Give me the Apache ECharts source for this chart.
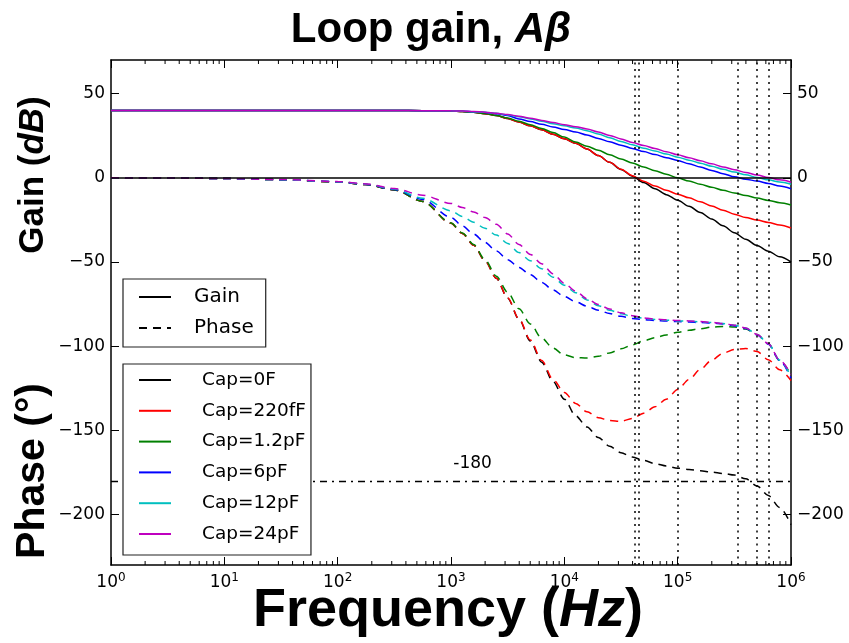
<!DOCTYPE html>
<html><head><meta charset="utf-8">
<script src="https://cdn.jsdelivr.net/npm/echarts@6/dist/echarts.min.js"></script>
<style>html,body{margin:0;padding:0;background:#fff}#c{width:849px;height:643px}</style>
</head><body><div id="c"></div>
<script>
// frequency grid (Hz)
const freq = [1, 3.162, 10, 31.62, 100, 177.8, 316.2, 562.3, 1000, 1259, 1585, 1995, 2512, 3162, 3981, 5012, 6310, 7943,
  10000, 12589, 15849, 19953, 25119, 31623, 39811, 50119, 63096, 79433, 100000, 125893, 158489, 199526, 251189, 316228,
  398107, 501187, 630957, 794328, 1000000];

// gain (dB)
const gain0F   = [40,40,40,40,40,40,40,39.9,39.7,39.4,38.9,38.1,37.0,35.2,33.1,30.9,28.5,25.9,23.2,20.5,17.1,13.2,9.2,5.0,1.0,-2.8,-6.5,-10.0,-13.3,-16.9,-20.6,-24.5,-28.5,-32.6,-36.5,-40.2,-43.6,-46.9,-50.0];
const gain220f = [40,40,40,40,40,40,40,39.9,39.7,39.4,38.9,38.1,37.0,35.2,33.1,30.9,28.5,25.9,23.2,20.5,17.1,13.2,9.2,5.1,1.3,-2.0,-4.9,-7.4,-9.7,-11.9,-14.2,-16.7,-19.2,-21.6,-23.6,-25.1,-26.5,-28.0,-29.8];
const gain1p2  = [40,40,40,40,40,40,40,39.9,39.7,39.4,38.9,38.2,37.1,35.5,33.6,31.5,29.3,26.9,24.2,21.3,18.8,16.4,13.7,11.2,8.8,6.4,4.2,2.1,0,-1.9,-3.8,-5.6,-7.4,-9.0,-10.5,-12.0,-13.4,-14.8,-16.1];
const gain6p   = [40,40,40,40,40,40,40,39.9,39.8,39.6,39.3,38.8,38.1,37.0,35.0,33.4,31.8,30.2,28.7,27.2,25.4,23.4,21.4,19.4,17.5,15.6,13.8,12.0,10.3,8.4,6.4,4.4,2.5,0.6,-0.8,-1.9,-3.3,-4.9,-6.5];
const gain12p  = [40,40,40,40,40,40,40,39.9,39.8,39.6,39.3,38.9,38.3,37.4,36.3,35.0,33.6,32.2,30.9,29.6,28.0,26.0,23.8,21.6,19.6,17.6,15.9,14.1,12.3,10.5,8.7,6.9,5.1,3.4,1.8,0.2,-1.2,-2.5,-3.8];
const gain24p  = [40,40,40,40,40,40,40,39.9,39.8,39.7,39.4,39.0,38.4,37.6,36.6,35.4,34.1,32.8,31.6,30.4,29.0,27.2,25.2,23.1,21.0,19.2,17.4,15.5,13.7,11.9,10.1,8.3,6.5,4.8,3.2,1.7,0.2,-1.2,-2.6];

// phase (deg)
const phase0F   = [0,-0.1,-0.4,-1.1,-2.4,-4.0,-7.2,-14.0,-27.0,-33.0,-40.0,-49.3,-59.7,-71.5,-84.0,-97.0,-109.5,-121.0,-131.5,-141.4,-148.0,-154.3,-159.5,-163.3,-165.8,-167.9,-169.8,-171.2,-172.5,-173.3,-174.0,-174.8,-175.6,-176.6,-178.8,-183.0,-188.7,-195.8,-206.0];
const phase220f = [0,-0.1,-0.4,-1.1,-2.4,-4.0,-7.2,-14.0,-27.0,-33.0,-40.0,-49.3,-59.7,-71.3,-83.8,-96.3,-108.5,-119.8,-127.5,-134.0,-139.0,-142.5,-144.2,-144.6,-143.0,-139.8,-136.0,-131.5,-125.8,-119.8,-113.8,-108.3,-104.2,-102.0,-101.4,-103.2,-108.0,-114.0,-120.5];
const phase1p2  = [0,-0.1,-0.4,-1.1,-2.4,-4.0,-7.2,-14.0,-26.8,-32.7,-39.6,-48.6,-58.4,-68.0,-77.8,-86.8,-95.2,-101.2,-105.2,-106.8,-107.1,-106.0,-104.0,-101.6,-99.2,-96.8,-95.0,-93.3,-91.8,-90.6,-89.6,-88.7,-88.3,-88.6,-89.8,-93.0,-98.5,-108.5,-117.0];
const phase6p   = [0,-0.1,-0.4,-1.1,-2.3,-3.9,-6.9,-12.8,-23.5,-28.5,-33.4,-38.3,-43.5,-48.6,-53.2,-57.6,-62.1,-66.6,-70.5,-73.6,-76.3,-78.6,-80.6,-82.3,-83.5,-84.2,-84.7,-85.1,-85.4,-85.7,-86.0,-86.3,-86.8,-87.8,-89.5,-93.2,-98.8,-108.5,-119.0];
const phase12p  = [0,-0.1,-0.4,-1.1,-2.3,-3.8,-6.7,-12.2,-19.6,-23.0,-26.4,-30.0,-34.0,-39.0,-44.4,-49.2,-54.0,-59.0,-63.8,-68.2,-72.5,-76.0,-78.6,-80.8,-82.3,-83.4,-84.1,-84.6,-85.0,-85.2,-85.5,-86.0,-86.6,-87.5,-89.2,-93.0,-98.6,-108.3,-118.0];
const phase24p  = [0,-0.1,-0.4,-1.0,-2.2,-3.6,-6.4,-10.3,-15.2,-17.6,-20.3,-23.6,-27.6,-33.3,-39.6,-45.5,-51.0,-57.0,-62.7,-67.3,-71.8,-75.3,-77.9,-80.2,-81.9,-83.2,-83.9,-84.3,-84.7,-85.0,-85.4,-85.9,-86.6,-87.5,-89.2,-93.0,-98.5,-108.3,-116.8];

const capNames  = ['Cap=0F', 'Cap=220fF', 'Cap=1.2pF', 'Cap=6pF', 'Cap=12pF', 'Cap=24pF'];
const styleNames = ['Gain', 'Phase'];
const crossFreqs = [42200, 45000, 100000, 340000, 500000, 642000];
const refPhase = -180;
const refLabel = '-180';
const refLabelFreq = 1550;
const yTicks = [-200, -150, -100, -50, 0, 50];
const xMinorTicks = [2,3,4,5,6,7,8,9,20,30,40,50,60,70,80,90,200,300,400,500,600,700,800,900,
  2000,3000,4000,5000,6000,7000,8000,9000,20000,30000,40000,50000,60000,70000,80000,90000,
  200000,300000,400000,500000,600000,700000,800000,900000];

const gains  = [gain0F, gain220f, gain1p2, gain6p, gain12p, gain24p];
const phases = [phase0F, phase220f, phase1p2, phase6p, phase12p, phase24p];
const capColors = ['#000000', '#ff0000', '#008000', '#0000ff', '#00bfbf', '#bf00bf'];

const Y_MIN = -230, Y_MAX = 70;
const DASH = [8, 6];
const FONT = 'DejaVu Sans';
const BOLD = 'Liberation Sans';

const series = [];
// reference lines (drawn beneath the curves)
series.push({name: 'ref', type: 'line', data: [], symbol: 'none', z: 1,
  markLine: {silent: true, symbol: 'none', animation: false, label: {show: false},
    data: [
      {yAxis: 0, lineStyle: {color: '#000', width: 1.6, type: 'solid'}},
      {yAxis: refPhase, lineStyle: {color: '#000', width: 1.3, type: [7, 5, 2, 5]}}
    ].concat(crossFreqs.map(f => ({xAxis: f, lineStyle: {color: '#000', width: 1.5, type: [2, 4.5]}})))
  },
  markPoint: {silent: true, symbol: 'circle', symbolSize: 0, animation: false,
    data: [{coord: [refLabelFreq, refPhase]}],
    label: {show: true, formatter: refLabel, position: 'top', distance: 9, color: '#000', fontFamily: FONT, fontSize: 17}
  }
});
series.push({name: 'Gain', type: 'line', data: [], symbol: 'none', color: '#000', lineStyle: {color: '#000', width: 1.5, type: 'solid'}});
series.push({name: 'Phase', type: 'line', data: [], symbol: 'none', color: '#000', lineStyle: {color: '#000', width: 1.5, type: DASH}});
capNames.forEach((n, i) => {
  series.push({name: n, type: 'line', symbol: 'none', smooth: 0.3, smoothMonotone: 'x', color: capColors[i],
    lineStyle: {width: 1.5, color: capColors[i]}, data: freq.map((f, j) => [f, gains[i][j]]), z: 3});
});
capNames.forEach((n, i) => {
  series.push({name: n, type: 'line', symbol: 'none', smooth: 0.3, smoothMonotone: 'x', color: capColors[i],
    lineStyle: {width: 1.5, color: capColors[i], type: DASH}, data: freq.map((f, j) => [f, phases[i][j]]), z: 3});
});
// minor log ticks on bottom and top
series.push({name: 'minor', type: 'custom', silent: true, z: 5, clip: false,
  data: xMinorTicks.map(v => [v, 0]), encode: {x: 0, y: 1},
  renderItem: (params, api) => {
    const f = api.value(0);
    const b = api.coord([f, Y_MIN]);
    const t = api.coord([f, Y_MAX]);
    return {type: 'group', children: [
      {type: 'line', shape: {x1: b[0], y1: b[1], x2: b[0], y2: b[1] - 4}, style: {stroke: '#000', lineWidth: 1}},
      {type: 'line', shape: {x1: t[0], y1: t[1], x2: t[0], y2: t[1] + 4}, style: {stroke: '#000', lineWidth: 1}}
    ]};
  }
});

const yFmt = v => v < 0 ? '\u2212' + (-v) : String(v);
const axisLineStyle = {show: true, onZero: false, lineStyle: {color: '#000', width: 1.5}};
const tickStyle = {show: true, inside: true, length: 8, lineStyle: {color: '#000', width: 1}};
const legendCommon = {orient: 'vertical', left: 123, itemWidth: 32, itemHeight: 14, selectedMode: false,
  backgroundColor: '#fff', borderColor: '#222', borderWidth: 1.2, borderRadius: 0, z: 10,
  itemStyle: {opacity: 0, borderWidth: 0}, inactiveColor: '#000'};

const option = {
  animation: false,
  backgroundColor: '#fff',
  grid: {left: 111, right: 58, top: 60, bottom: 78, containLabel: false},
  xAxis: [
    {type: 'log', logBase: 10, min: 1, max: 1e6, position: 'bottom',
      axisLine: axisLineStyle, axisTick: tickStyle, splitLine: {show: false},
      axisLabel: {margin: 7, formatter: v => '{b|10}{s|' + Math.round(Math.log10(v)) + '}',
        rich: {b: {fontFamily: FONT, fontSize: 17, color: '#000'}, s: {fontFamily: FONT, fontSize: 12, color: '#000', padding: [0, 0, 10, 0]}}}},
    {type: 'log', logBase: 10, min: 1, max: 1e6, position: 'top',
      axisLine: axisLineStyle, axisTick: tickStyle, splitLine: {show: false}, axisLabel: {show: false}}
  ],
  yAxis: [
    {type: 'value', min: Y_MIN, max: Y_MAX, position: 'left',
      axisLine: axisLineStyle, axisTick: Object.assign({}, tickStyle, {customValues: yTicks}), splitLine: {show: false},
      axisLabel: {customValues: yTicks, formatter: yFmt, margin: 6, color: '#000', fontFamily: FONT, fontSize: 17}},
    {type: 'value', min: Y_MIN, max: Y_MAX, position: 'right',
      axisLine: axisLineStyle, axisTick: Object.assign({}, tickStyle, {customValues: yTicks}), splitLine: {show: false},
      axisLabel: {customValues: yTicks, formatter: yFmt, margin: 6, color: '#000', fontFamily: FONT, fontSize: 17}}
  ],
  legend: [
    Object.assign({}, legendCommon, {data: styleNames, top: 279, padding: [7, 12, 8, 15], itemGap: 9,
      textStyle: {fontFamily: FONT, fontSize: 20, color: '#000', lineHeight: 22, padding: [0, 0, 0, 18]}}),
    Object.assign({}, legendCommon, {data: capNames, top: 364, padding: [5, 5, 10, 15], itemGap: 8.8,
      textStyle: {fontFamily: FONT, fontSize: 18.5, color: '#000', lineHeight: 22, padding: [0, 0, 0, 26]}})
  ],
  graphic: [
    {type: 'text', x: 431, y: 30, z: 10, style: {text: '{a|Loop gain, }{b|A\u03b2}', align: 'center', verticalAlign: 'middle',
      rich: {a: {fontFamily: BOLD, fontWeight: 'bold', fontSize: 42, fill: '#000'}, b: {fontFamily: BOLD, fontWeight: 'bold', fontStyle: 'italic', fontSize: 42, fill: '#000'}}}},
    {type: 'text', x: 448, y: 611, z: 10, style: {text: '{a|Frequency (}{b|Hz}{a|)}', align: 'center', verticalAlign: 'middle',
      rich: {a: {fontFamily: BOLD, fontWeight: 'bold', fontSize: 54, fill: '#000'}, b: {fontFamily: BOLD, fontWeight: 'bold', fontStyle: 'italic', fontSize: 54, fill: '#000'}}}},
    {type: 'text', x: 33, y: 175, rotation: Math.PI / 2, z: 10, style: {text: '{a|Gain (}{b|dB}{a|)}', align: 'center', verticalAlign: 'middle',
      rich: {a: {fontFamily: BOLD, fontWeight: 'bold', fontSize: 35, fill: '#000'}, b: {fontFamily: BOLD, fontWeight: 'bold', fontStyle: 'italic', fontSize: 35, fill: '#000'}}}},
    {type: 'text', x: 33, y: 471, rotation: Math.PI / 2, z: 10, style: {text: 'Phase (\u00b0)', align: 'center', verticalAlign: 'middle',
      fontFamily: BOLD, fontWeight: 'bold', fontSize: 41, fill: '#000'}}
  ],
  series: series
};

const chart = echarts.init(document.getElementById('c'), null, {renderer: 'canvas'});
chart.setOption(option);
</script>
</body></html>
